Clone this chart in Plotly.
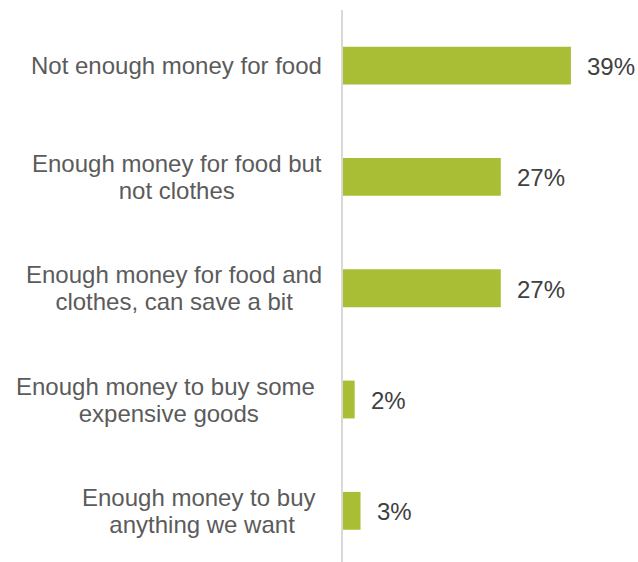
import plotly.graph_objects as go

# Household income situation, share of respondents
categories = [
    "Not enough money for food",
    "Enough money for food but not clothes",
    "Enough money for food and clothes, can save a bit",
    "Enough money to buy some expensive goods",
    "Enough money to buy anything we want",
]
label_lines = [
    ["Not enough money for food"],
    ["Enough money for food but", "not clothes"],
    ["Enough money for food and", "clothes, can save a bit"],
    ["Enough money to buy some\u00a0", "expensive goods"],
    ["Enough money to buy\u00a0", "anything we want"],
]
values = [39, 27, 27, 2, 3]

BAR_COLOR = "#AABE35"
LABEL_COLOR = "#5B5B5B"
VALUE_COLOR = "#404040"
FONT = "Liberation Sans, Arial, sans-serif"
FONT_SIZE = 24
LINE_GAP = 27  # px between wrapped label lines


def wrap(lines):
    # Each line carries the full glyph size; the outer font size sets the line pitch.
    return "<br>".join(f"<span style='font-size:{FONT_SIZE}px'>{s}</span>" for s in lines)


fig = go.Figure(
    go.Bar(
        x=values,
        y=categories,
        orientation="h",
        marker=dict(color=BAR_COLOR, line=dict(width=0)),
        width=0.34,
        hoverinfo="skip",
    )
)

annotations = []
for cat, lines in zip(categories, label_lines):
    annotations.append(dict(
        x=0, xref="paper", y=cat, yref="y",
        text=wrap(lines), showarrow=False, xanchor="right", yanchor="middle",
        align="center", xshift=-19,
        font=dict(family=FONT, size=LINE_GAP / 1.3, color=LABEL_COLOR),
    ))
for cat, v in zip(categories, values):
    annotations.append(dict(
        x=v, xref="x", y=cat, yref="y",
        text=f"{v}%", showarrow=False, xanchor="left", yanchor="middle",
        xshift=14, yshift=-1,
        font=dict(family=FONT, size=FONT_SIZE, color=VALUE_COLOR),
    ))

fig.update_layout(
    width=638,
    height=562,
    margin=dict(l=343, r=32, t=10, b=0),
    paper_bgcolor="white",
    plot_bgcolor="white",
    showlegend=False,
    annotations=annotations,
    xaxis=dict(range=[0, 45], visible=False, fixedrange=True),
    yaxis=dict(
        categoryorder="array",
        categoryarray=categories,
        range=[4.46, -0.5],
        showticklabels=False,
        ticks="",
        showgrid=False,
        zeroline=False,
        showline=True,
        linecolor="#D9D9D9",
        linewidth=2,
        fixedrange=True,
    ),
)

fig.write_html("out.html")
